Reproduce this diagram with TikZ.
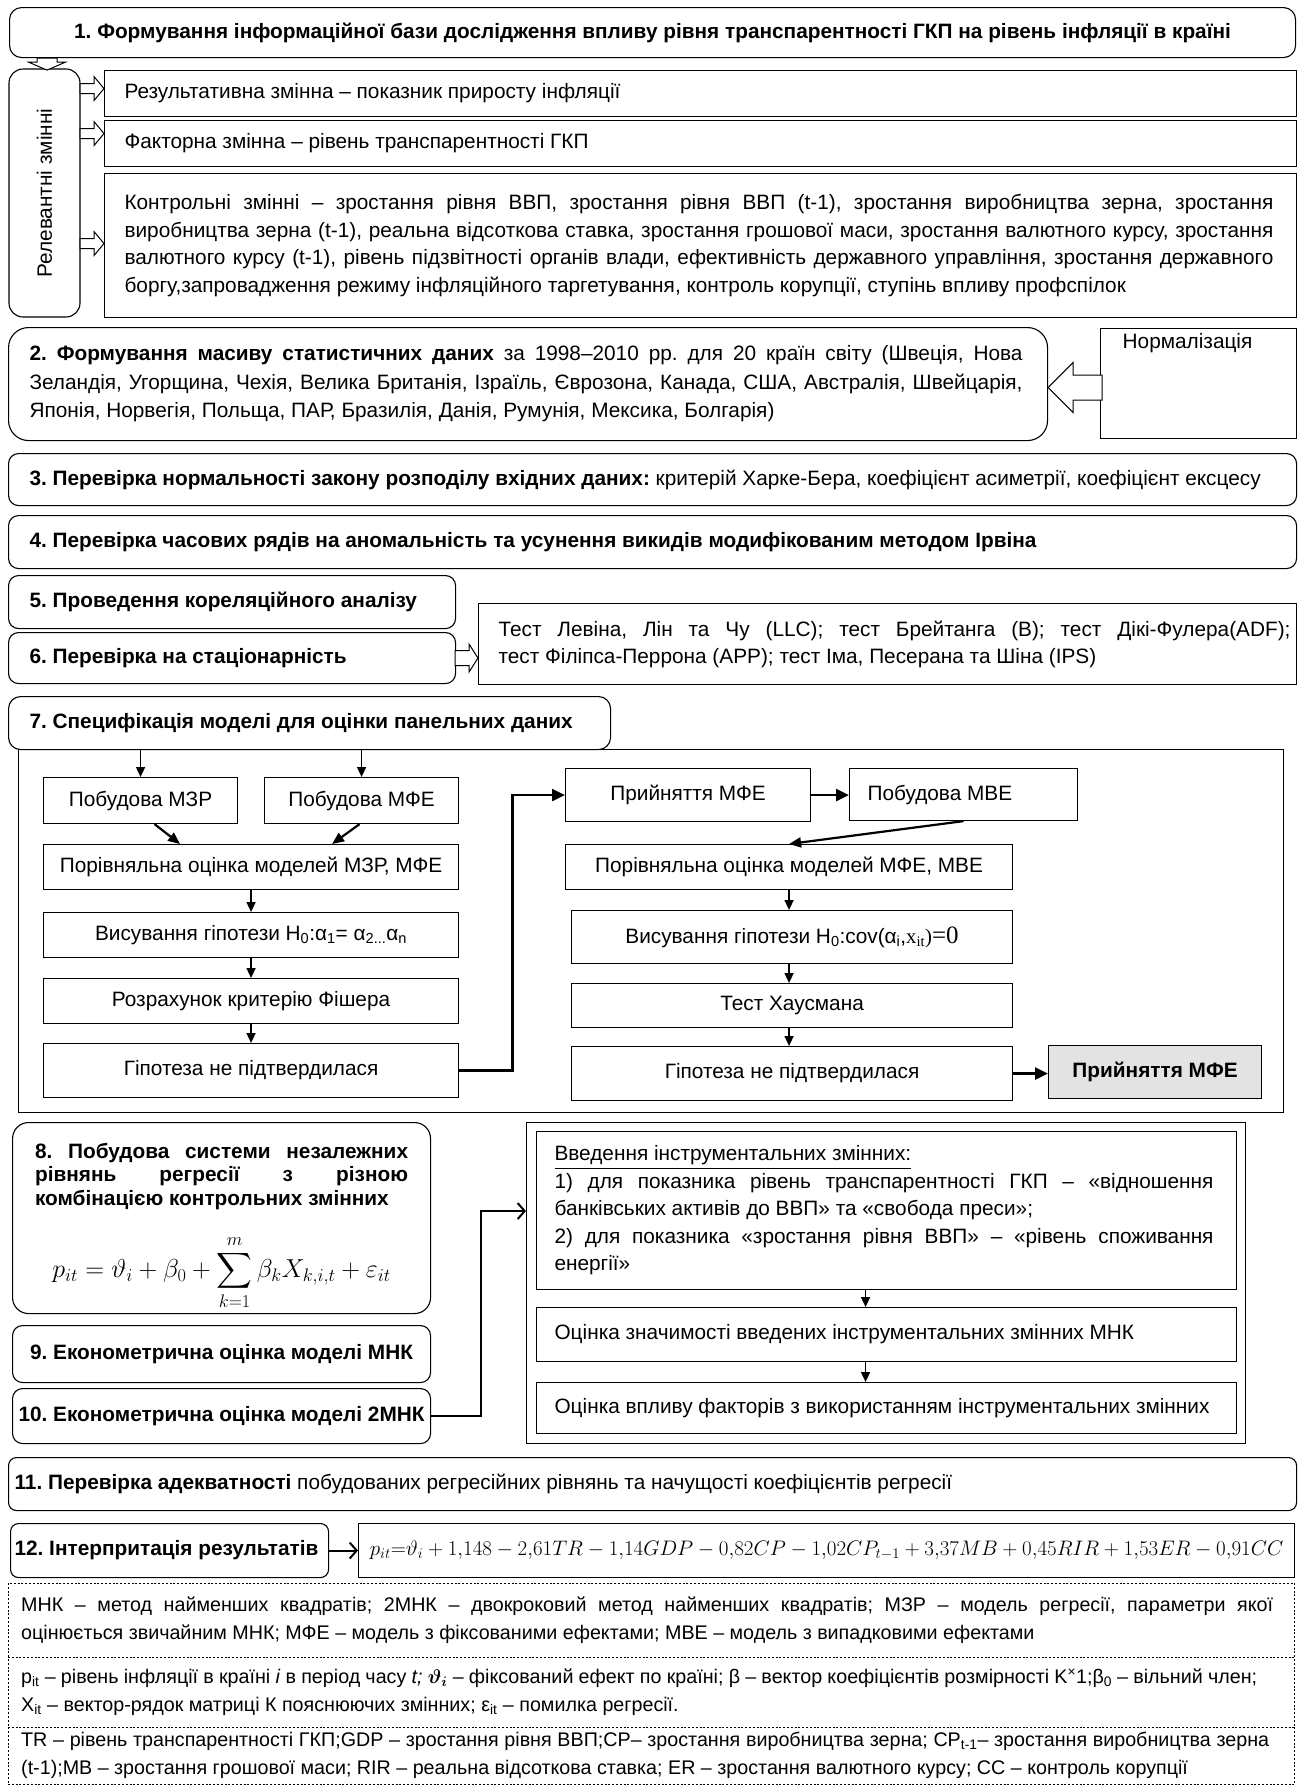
\documentclass[tikz,border=0pt]{standalone}
\usepackage{fix-cm}
\usepackage{exscale}
\usepackage[no-math]{fontspec}
\setmainfont{Liberation Sans}
\newfontfamily\serif{Liberation Serif}
\usetikzlibrary{arrows.meta,calc}
\newcommand\fs{\fontsize{20.8}{27.5}\selectfont}
% a line spread over a given width
\newcommand\jl[2]{\leavevmode\hbox to #1{#2}}
\begin{document}
\frenchspacing
\begin{tikzpicture}[x=1pt,y=-1pt,
  every node/.style={font=\fs},
  box/.style={draw, line width=1.1pt, fill=white, inner sep=0pt, anchor=north west},
  rbox/.style={box, rounded corners=10pt},
  plain spaces/.style={execute at begin node={\spaceskip=0pt\xspaceskip=0pt\frenchspacing}},
  lbox/.style={box, align=left, plain spaces},
  arr/.style={line width=1.6pt, -{Triangle[length=10pt,width=9pt]}},
  darr/.style={line width=2.2pt, -{Triangle[length=12pt,width=10pt]}},
  thk/.style={line width=2.8pt, -{Triangle[length=13pt,width=12pt]}},
  barb/.style={line width=2pt, -{Straight Barb[length=7pt,width=16pt]}},
  blk/.style={draw, line width=1pt, fill=white, line join=miter},
  dsh/.style={line width=0.9pt, dash pattern=on 2pt off 1.8pt},
  note/.style={anchor=north west, inner sep=0pt, minimum width=1286pt, text width=1260pt, inner xsep=13pt, align=left,
               plain spaces, font=\fontsize{19.7}{28}\selectfont},
]
\useasboundingbox (0,0) rectangle (1301,1786);

% ---- step 1 and the relevant variables
\node[rbox, rounded corners=12pt, minimum width=1286pt, minimum height=50pt] (s1) at (9,7)
  {\textbf{1. Формування інформаційної бази дослідження впливу рівня транспарентності ГКП на рівень інфляції в країні}};
\node[box, anchor=center, rounded corners=14pt, rotate=90, minimum width=248pt, minimum height=71pt] (rel) at (44.5,193)
  {Релевантні змінні};
\draw[blk] ($(s1.south west)+(38,12)$) -- ++(-18.5,-8) -- ++(8.5,0) -- ++(0,-4) -- ++(20,0) -- ++(0,4) -- ++(8.5,0) -- cycle;

\node[lbox, minimum width=1192pt, minimum height=46pt, text width=1152pt, inner xsep=20pt] (rA) at (104,70)
  {Результативна змінна – показник приросту інфляції};
\node[lbox, minimum width=1192pt, minimum height=46pt, text width=1152pt, inner xsep=20pt] (rB) at (104,120)
  {Факторна змінна – рівень транспарентності ГКП};
\node[lbox, minimum width=1192pt, minimum height=144pt, text width=1152pt, inner xsep=20pt] (rC) at (104,173)
  {\jl{1149pt}{Контрольні змінні – зростання рівня ВВП, зростання рівня ВВП (t-1), зростання виробництва зерна, зростання}\\
   \jl{1149pt}{виробництва зерна (t-1), реальна відсоткова ставка, зростання грошової маси, зростання валютного курсу, зростання}\\
   \jl{1149pt}{валютного курсу (t-1), рівень підзвітності органів влади, ефективність державного управління, зростання державного}\\
   боргу,запровадження режиму інфляційного таргетування, контроль корупції, ступінь впливу профспілок};
\draw[blk] ([yshift=5pt]rA.west) -- ++(-10,-12) -- ++(0,7) -- ++(-14,0) -- ++(0,10) -- ++(14,0) -- ++(0,7) -- cycle;
\draw[blk] ([yshift=10pt]rB.west) -- ++(-10,-12) -- ++(0,7) -- ++(-14,0) -- ++(0,10) -- ++(14,0) -- ++(0,7) -- cycle;
\draw[blk] ([yshift=2pt]rC.west) -- ++(-10,-12) -- ++(0,7) -- ++(-14,0) -- ++(0,10) -- ++(14,0) -- ++(0,7) -- cycle;

% ---- steps 2 to 6
\node[lbox, rounded corners=20pt, minimum width=1039pt, minimum height=113pt, text width=997pt, inner xsep=21pt,
      font=\fontsize{20.8}{28.5}\selectfont] (s2) at (8,327)
  {\jl{993pt}{\textbf{2. Формування масиву статистичних даних} за 1998–2010 рр. для 20 країн світу (Швеція, Нова}\\
   \jl{993pt}{Зеландія, Угорщина, Чехія, Велика Британія, Ізраїль, Єврозона, Канада, США, Австралія, Швейцарія,}\\
   Японія, Норвегія, Польща, ПАР, Бразилія, Данія, Румунія, Мексика, Болгарія)};
\node[box, minimum width=196pt, minimum height=110pt] (nrm) at (1100,328)
  {\parbox[c][100pt][t]{170pt}{\centering Нормалізація\hspace*{22pt}}};
\draw[blk] ($(s2.east |- nrm.center)+(0,4)$) -- ++(25,-25) -- ++(0,12.5) -- ++(29,0) -- ++(0,25) -- ++(-29,0) -- ++(0,12.5) -- cycle;

\node[lbox, rounded corners=10pt, minimum width=1288pt, minimum height=52pt, text width=1246pt, inner xsep=21pt] (s3) at (8,453)
  {\textbf{3. Перевірка нормальності закону розподілу вхідних даних:} критерій Харке-Бера, коефіцієнт асиметрії, коефіцієнт ексцесу};
\node[lbox, rounded corners=10pt, minimum width=1288pt, minimum height=53pt, text width=1246pt, inner xsep=21pt] (s4) at (8,515)
  {\textbf{4. Перевірка часових рядів на аномальність та усунення викидів модифікованим методом Ірвіна}};
\node[lbox, rounded corners=10pt, minimum width=447pt, minimum height=53pt, text width=405pt, inner xsep=21pt] (s5) at (8,575)
  {\textbf{5. Проведення кореляційного аналізу}};
\node[lbox, rounded corners=10pt, minimum width=447pt, minimum height=51pt, text width=405pt, inner xsep=21pt] (s6) at (8,632)
  {\textbf{6. Перевірка на стаціонарність}};
\node[lbox, minimum width=818pt, minimum height=81pt, text width=778pt, inner xsep=20pt,
      font=\fontsize{20.8}{27}\selectfont] (test) at (478,603)
  {\jl{792pt}{Тест Левіна, Лін та Чу (LLC); тест Брейтанга (B); тест Дікі-Фулера(ADF);}\\
   тест Філіпса-Перрона (APP); тест Іма, Песерана та Шіна (IPS)};
\draw[blk] (test.west |- s6.center) -- ++(-9,-14) -- ++(0,6.5) -- ++(-14,0) -- ++(0,15) -- ++(14,0) -- ++(0,6.5) -- cycle;

% ---- step 7: panel model specification
\node[draw, line width=1.1pt, inner sep=0pt, anchor=north west, minimum width=1265pt, minimum height=363pt] (cont) at (18,749) {};
\node[lbox, rounded corners=12pt, minimum width=583pt, minimum height=53pt, text width=560pt, inner xsep=21pt] (s7) at (8,696)
  {\textbf{7. Специфікація моделі для оцінки панельних даних}};

\node[box, minimum width=194pt, minimum height=46pt] (L1) at (43,777) {Побудова МЗР};
\node[box, minimum width=194pt, minimum height=46pt] (L2) at (264,777) {Побудова МФЕ};
\node[box, minimum width=415pt, minimum height=45pt] (L3) at (43,844) {Порівняльна оцінка моделей МЗР, МФЕ};
\node[box, minimum width=415pt, minimum height=45pt] (L4) at (43,912)
  {Висування гіпотези H\textsubscript{0}:α\textsubscript{1}= α\textsubscript{2...}α\textsubscript{n}};
\node[box, minimum width=415pt, minimum height=45pt] (L5) at (43,978) {Розрахунок критерію Фішера};
\node[box, minimum width=415pt, minimum height=54pt] (L6) at (43,1043) {Гіпотеза не підтвердилася};

\node[box, minimum width=245pt, minimum height=53pt] (R1) at (565,768) {Прийняття МФЕ};
\node[lbox, minimum width=228pt, minimum height=52pt, text width=192pt, inner xsep=18pt] (R2) at (849,768) {Побудова МВЕ};
\node[box, minimum width=447pt, minimum height=45pt] (R3) at (565,844) {Порівняльна оцінка моделей МФЕ, МВЕ};
\node[box, minimum width=441pt, minimum height=53pt] (R4) at (571,910)
  {Висування гіпотези H\textsubscript{0}:cov(α\textsubscript{i},{\serif x\textsubscript{it}){\fontsize{25}{27}\selectfont =0}}};
\node[box, minimum width=441pt, minimum height=44pt] (R5) at (571,983) {Тест Хаусмана};
\node[box, minimum width=441pt, minimum height=54pt] (R6) at (571,1046) {Гіпотеза не підтвердилася};
\node[box, fill=gray!22, minimum width=213pt, minimum height=53pt] (R7) at (1048,1045) {\textbf{Прийняття МФЕ}};

\draw[arr] (L1.north |- s7.south) -- (L1.north);
\draw[arr] (L2.north |- s7.south) -- (L2.north);
\draw[darr] ([xshift=14pt]L1.south) -- ([xshift=-71pt]L3.north);
\draw[darr] ([xshift=-2pt]L2.south) -- ([xshift=81pt]L3.north);
\draw[arr] (L3.south) -- (L4.north);
\draw[arr] (L4.south) -- (L5.north);
\draw[arr] (L5.south) -- (L6.north);
\draw[thk] (L6.east) -- ++(53,0) |- (R1.west);
\draw[thk] (R1.east) -- (R2.west |- R1.east);
\draw[darr] (R2.south) -- (R3.north);
\draw[arr] (R3.south) -- (R3.south |- R4.north);
\draw[arr] (R3.south |- R4.south) -- (R3.south |- R5.north);
\draw[arr] (R3.south |- R5.south) -- (R3.south |- R6.north);
\draw[thk] (R6.east) -- (R7.west |- R6.east);

% ---- steps 8 to 10 and the instrumental variables
\node[lbox, rounded corners=16pt, minimum width=418pt, minimum height=191pt, text width=373pt, inner xsep=22.5pt,
      font=\fontsize{20.8}{23.3}\selectfont] (b8) at (12,1122)
  {\jl{373pt}{\textbf{8. Побудова системи незалежних}}\\
   \jl{373pt}{\textbf{рівнянь регресії з різною}}\\
   \textbf{комбінацією контрольних змінних}\\[8pt]
   \makebox[373pt]{\fontsize{26}{30}\selectfont\raisebox{-17pt}[\height][\depth]{$\displaystyle p_{it}=\vartheta_i+\beta_0+\sum_{k=1}^{m}\beta_k X_{k,i,t}+\varepsilon_{it}$}}};
\node[rbox, minimum width=418pt, minimum height=57pt] (b9) at (12,1325) {\textbf{9. Економетрична оцінка моделі МНК}};
\node[rbox, minimum width=418pt, minimum height=55pt] (b10) at (12,1388) {\textbf{10. Економетрична оцінка моделі 2МНК}};

\node[draw, line width=1.1pt, inner sep=0pt, anchor=north west, minimum width=719pt, minimum height=321pt] (outer) at (526,1122) {};
\node[lbox, minimum width=700pt, minimum height=158pt, text width=664pt, inner xsep=18pt] (I1) at (536,1131)
  {\underline{Введення інструментальних змінних:}\\
   \jl{659pt}{1) для показника рівень транспарентності ГКП – «відношення}\\
   банківських активів до ВВП» та «свобода преси»;\\
   \jl{659pt}{2) для показника «зростання рівня ВВП» – «рівень споживання}\\
   енергії»};
\node[lbox, minimum width=700pt, minimum height=54pt, text width=664pt, inner xsep=18pt] (I2) at (536,1307)
  {Оцінка значимості введених інструментальних змінних МНК};
\node[lbox, minimum width=700pt, minimum height=51pt, text width=664pt, inner xsep=18pt] (I3) at (536,1382)
  {Оцінка впливу факторів з використанням інструментальних змінних};
\draw[arr] ([xshift=-21pt]I1.south) -- ([xshift=-21pt]I2.north);
\draw[arr] ([xshift=-21pt]I2.south) -- ([xshift=-21pt]I3.north);
\draw[barb] (b10.east) -- ++(50,0) |- ([yshift=72pt]outer.west);

% ---- steps 11 and 12
\node[lbox, rounded corners=8pt, minimum width=1288pt, minimum height=53pt, text width=1276pt, inner xsep=6pt] (b11) at (8,1457)
  {\textbf{11. Перевірка адекватності} побудованих регресійних рівнянь та начущості коефіцієнтів регресії};
\node[lbox, rounded corners=8pt, minimum width=318pt, minimum height=54pt, text width=310pt, inner xsep=4pt] (b12) at (10,1523)
  {\textbf{12. Інтерпритація результатів}};
\node[box, minimum width=936pt, minimum height=54pt] (eq) at (358,1523)
  {\fontsize{21}{25}\selectfont $p_{it}{=}\vartheta_i + 1{,}148 - 2{,}61TR - 1{,}14GDP - 0{,}82CP - 1{,}02CP_{t-1} + 3{,}37MB + 0{,}45RIR + 1{,}53ER - 0{,}91CC$};
\draw[barb] (b12.east) -- (eq.west);

% ---- notes
\node[note, minimum height=74pt] (f1) at (8,1583)
  {\jl{1252pt}{МНК – метод найменших квадратів; 2МНК – двокроковий метод найменших квадратів; МЗР – модель регресії, параметри якої}\\
   оцінюється звичайним МНК; МФЕ – модель з фіксованими ефектами; МВЕ – модель з випадковими ефектами};
\node[note, minimum height=70pt] (f2) at (8,1657)
  {\jl{1236pt}{p\textsubscript{it} – рівень інфляції в країні \textit{i} в період часу \textit{t; }{\boldmath$\vartheta_i$} – фіксований ефект по країні; β – вектор коефіцієнтів розмірності K\textsuperscript{×}1;β\textsubscript{0} – вільний член;}\\
   X\textsubscript{it} – вектор-рядок матриці К пояснюючих змінних; ε\textsubscript{it} – помилка регресії.};
\node[note, minimum height=57pt] (f3) at (8,1727)
  {\jl{1248pt}{TR – рівень транспарентності ГКП;GDP – зростання рівня ВВП;CP– зростання виробництва зерна; CP\textsubscript{t-1}– зростання виробництва зерна}\\
   (t-1);MB – зростання грошової маси; RIR – реальна відсоткова ставка; ER – зростання валютного курсу; CC – контроль корупції};
\draw[dsh] (f1.north west) rectangle (f3.south east);
\draw[dsh] (f2.north west) -- (f2.north east);
\draw[dsh] (f3.north west) -- (f3.north east);
\end{tikzpicture}
\end{document}
